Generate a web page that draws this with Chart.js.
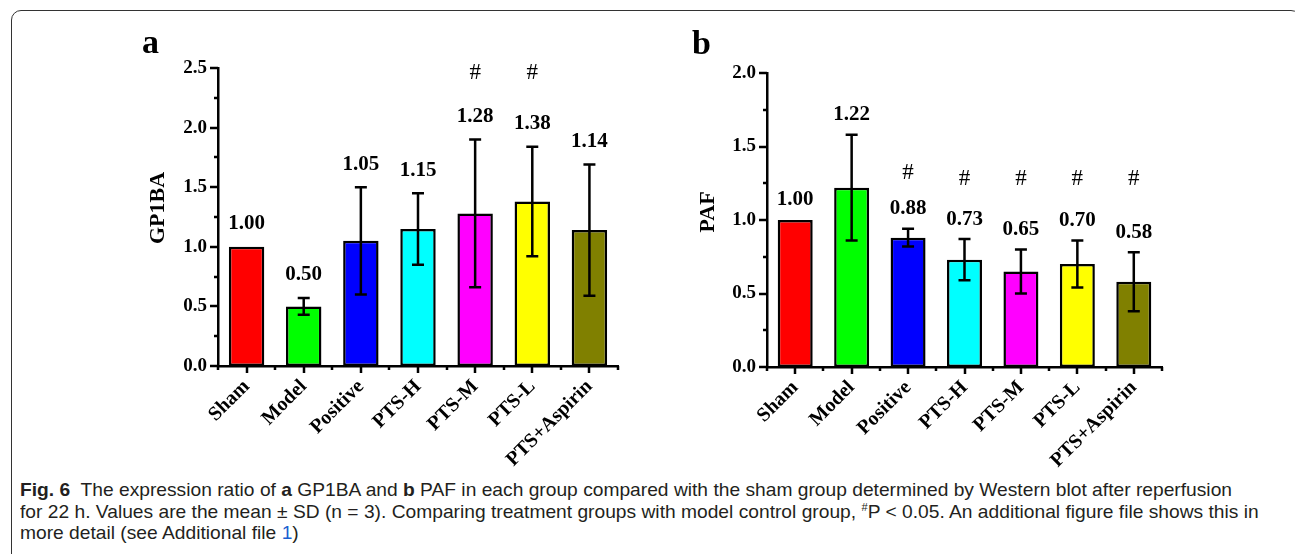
<!DOCTYPE html>
<html>
<head>
<meta charset="utf-8">
<script src="https://cdn.jsdelivr.net/npm/chart.js@4.4.1/dist/chart.umd.min.js"></script>
<style>
  html, body { margin: 0; padding: 0; background: #fff; }
  body { width: 1295px; height: 554px; position: relative; overflow: hidden; }
  #frame { position: absolute; left: 11px; top: 10px; width: 1290px; height: 600px;
    border: 1.5px solid #333; border-radius: 10px 10px 0 0; box-sizing: border-box; }
  .panel { position: absolute; top: 15px; width: 510px; height: 462px; }
  #panelA { left: 120px; }
  #panelB { left: 670px; }
  #caption { position: absolute; left: 20px; top: 479px; font-family: "Liberation Sans", Arial, sans-serif;
    font-size: 19px; line-height: 21.7px; color: #231f20; white-space: nowrap; transform-origin: 0 0; }
  #caption b { font-weight: bold; }
  #caption sup { font-size: 11px; vertical-align: 7px; line-height: 0; }
  #caption .link { color: #1a5fd0; }
</style>
</head>
<body>
<div id="frame"></div>
<div class="panel" id="panelA"><canvas id="chartA"></canvas></div>
<div class="panel" id="panelB"><canvas id="chartB"></canvas></div>
<div id="caption">
  <div><span id="line1"><b>Fig. 6</b>&nbsp; The expression ratio of <b>a</b> GP1BA and <b>b</b> PAF in each group compared with the sham group determined by Western blot after reperfusion</span></div>
  <div>for 22 h. Values are the mean ± SD (n = 3). Comparing treatment groups with model control group, <sup>#</sup>P &lt; 0.05. An additional figure file shows this in</div>
  <div>more detail (see Additional file <span class="link">1</span>)</div>
</div>
<script>
// ---- data ----
const groups = ['Sham', 'Model', 'Positive', 'PTS-H', 'PTS-M', 'PTS-L', 'PTS+Aspirin'];
const barColors = ['#ff0000', '#00ff00', '#0000ff', '#00ffff', '#ff00ff', '#ffff00', '#808000'];

const gp1baMean = [1.00, 0.50, 1.05, 1.15, 1.28, 1.38, 1.14];
const gp1baSd   = [0, 0.07, 0.45, 0.30, 0.62, 0.46, 0.55];
const gp1baSig  = [false, false, false, false, true, true, false];

const pafMean = [1.00, 1.22, 0.88, 0.73, 0.65, 0.70, 0.58];
const pafSd   = [0, 0.36, 0.06, 0.14, 0.15, 0.16, 0.20];
const pafSig  = [false, false, true, true, true, true, true];

const SERIF = '"Liberation Serif", "Times New Roman", serif';

// draws error bars, value labels, # marks, custom ticks, panel letter and y title
const decorPlugin = {
  id: 'decor',
  afterDatasetsDraw(chart) {
    const o = chart.options.plugins.decor;
    const ctx = chart.ctx;
    const x = chart.scales.x, y = chart.scales.y;
    const area = chart.chartArea;
    ctx.save();
    ctx.strokeStyle = '#000';
    ctx.fillStyle = '#000';
    ctx.lineWidth = 2.5;

    // error bars
    o.mean.forEach((m, i) => {
      const sd = o.sd[i];
      if (!sd) return;
      const cx = x.getPixelForValue(i);
      const yt = y.getPixelForValue(m + sd), yb = y.getPixelForValue(m - sd);
      ctx.beginPath();
      ctx.moveTo(cx, yt); ctx.lineTo(cx, yb);
      ctx.moveTo(cx - 6, yt); ctx.lineTo(cx + 6, yt);
      ctx.moveTo(cx - 6, yb); ctx.lineTo(cx + 6, yb);
      ctx.stroke();
    });

    // value labels + significance marks
    ctx.textAlign = 'center';
    ctx.textBaseline = 'middle';
    const sigTop = y.getPixelForValue(o.sigLevel);
    o.mean.forEach((m, i) => {
      const cx = x.getPixelForValue(i);
      const ly = y.getPixelForValue(m + o.sd[i]) - o.labelGap;
      ctx.font = 'bold 21px ' + SERIF;
      ctx.fillText(m.toFixed(2), cx, ly);
      if (o.sig[i]) {
        ctx.font = '23px ' + SERIF;
        ctx.fillText('#', cx, Math.min(sigTop, ly - 36));
      }
    });

    // y ticks (major every 0.5, minor every 0.25)
    ctx.beginPath();
    for (let v = 0; v <= y.max + 1e-9; v += 0.25) {
      const py = Math.round(y.getPixelForValue(v));
      const len = (Math.round(v * 4) % 2 === 0) ? 8 : 4;
      ctx.moveTo(area.left - len, py); ctx.lineTo(area.left, py);
    }
    // x ticks (major at categories, minor at boundaries)
    for (let i = 0; i < groups.length; i++) {
      const px = Math.round(x.getPixelForValue(i));
      ctx.moveTo(px, area.bottom); ctx.lineTo(px, area.bottom + 7);
    }
    for (let i = 0; i <= groups.length; i++) {
      const px = Math.round(x.getPixelForValue(i - 0.5));
      ctx.moveTo(px, area.bottom); ctx.lineTo(px, area.bottom + 4);
    }
    ctx.stroke();

    // panel letter
    ctx.textAlign = 'left';
    ctx.textBaseline = 'alphabetic';
    ctx.font = 'bold 34px ' + SERIF;
    ctx.fillText(o.letter, o.letterX, o.letterY);

    // y axis title
    ctx.translate(o.titleX, o.titleY);
    ctx.rotate(-Math.PI / 2);
    ctx.textAlign = 'center';
    ctx.textBaseline = 'middle';
    ctx.font = 'bold 22px ' + SERIF;
    ctx.fillText(o.title, 0, 0);
    ctx.restore();
  }
};

function makeChart(id, mean, sd, sig, yMax, o) {
  return new Chart(document.getElementById(id), {
    type: 'bar',
    data: {
      labels: groups,
      datasets: [{
        data: mean,
        backgroundColor: barColors,
        borderColor: '#000',
        borderWidth: 2.5,
        borderSkipped: false,
        barPercentage: 0.62,
        categoryPercentage: 1.0
      }]
    },
    options: {
      responsive: true,
      maintainAspectRatio: false,
      animation: false,
      layout: { padding: { top: o.padTop, right: o.padRight, left: 0, bottom: 0 } },
      plugins: {
        legend: { display: false },
        tooltip: { enabled: false },
        decor: Object.assign({ mean, sd, sig }, o)
      },
      scales: {
        x: {
          grid: { display: false, drawTicks: false },
          border: { display: true, width: 2.5, color: '#000' },
          ticks: { color: '#000', font: { family: SERIF, size: 20, weight: 'bold' },
                   minRotation: 45, maxRotation: 45, padding: 9, autoSkip: false },
          afterFit(scale) { scale.height = o.xHeight; }
        },
        y: {
          min: 0, max: yMax,
          grid: { display: false, drawTicks: false },
          border: { display: true, width: 2.5, color: '#000' },
          ticks: { stepSize: 0.5, color: '#000', padding: 11,
                   font: { family: SERIF, size: 19, weight: 'bold' },
                   callback: v => v.toFixed(1) },
          afterFit(scale) { scale.width = o.yWidth; }
        }
      }
    },
    plugins: [decorPlugin]
  });
}

makeChart('chartA', gp1baMean, gp1baSd, gp1baSig, 2.5, {
  padTop: 53, padRight: 12, xHeight: 111, yWidth: 98,
  labelGap: 23, sigLevel: 2.46,
  letter: 'a', letterX: 22, letterY: 38,
  title: 'GP1BA', titleX: 38, titleY: 193
});

makeChart('chartB', pafMean, pafSd, pafSig, 2.0, {
  padTop: 58, padRight: 18, xHeight: 110, yWidth: 97,
  labelGap: 20, sigLevel: 1.28,
  letter: 'b', letterX: 22, letterY: 39,
  title: 'PAF', titleX: 38, titleY: 197
});

// squeeze the caption so line 1 spans the same width as the reference
const line1 = document.getElementById('line1');
const sx = 1212 / line1.getBoundingClientRect().width;
document.getElementById('caption').style.transform = 'scaleX(' + sx + ')';
</script>
</body>
</html>
